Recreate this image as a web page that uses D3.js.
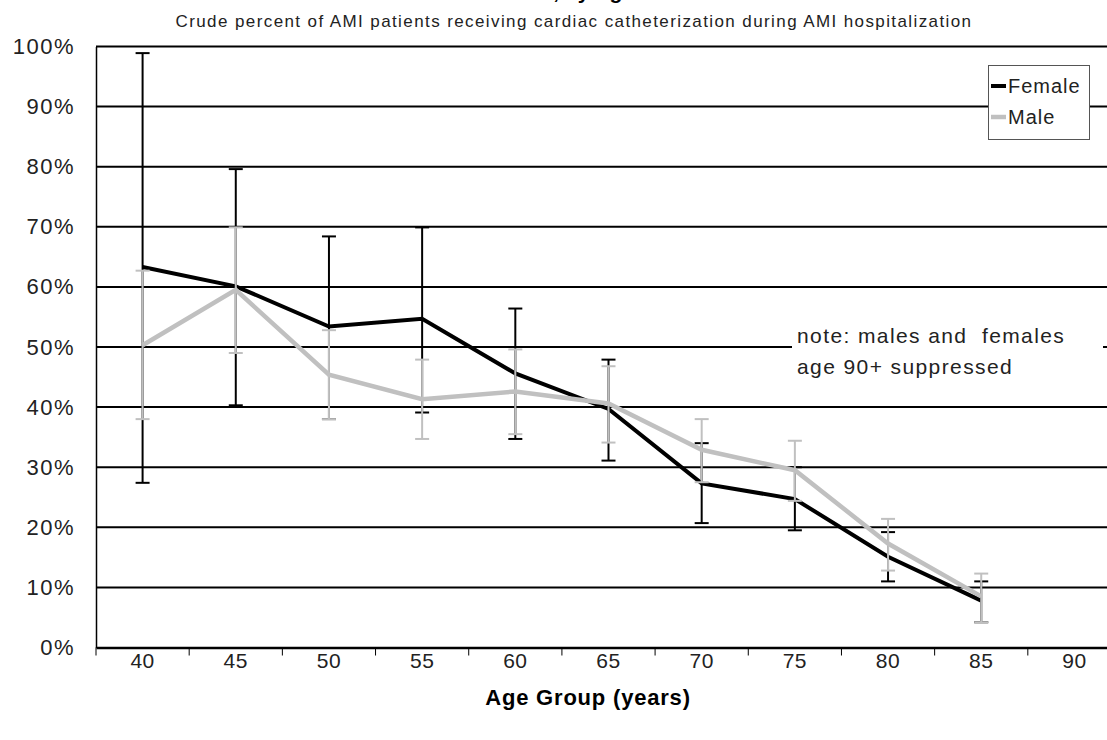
<!DOCTYPE html>
<html>
<head>
<meta charset="utf-8">
<script src="https://cdn.jsdelivr.net/npm/d3@7"></script>
<style>
  body { margin: 0; background: #fff; }
  svg { display: block; font-family: "Liberation Sans", Arial, sans-serif; }
</style>
</head>
<body>
<div id="chart"></div>
<script>
// Age groups (x categories)
const ages = [40, 45, 50, 55, 60, 65, 70, 75, 80, 85, 90];

// Female: crude percent and confidence limits
const femaleRate  = [63.3, 60.1, 53.4, 54.7, 45.6, 39.7, 27.3, 24.7, 15.1, 7.8];
const femaleLower = [27.4, 40.3, 38.0, 39.1, 34.7, 31.1, 20.7, 19.5, 11.0, 4.2];
const femaleUpper = [98.9, 79.6, 68.4, 69.9, 56.4, 47.9, 34.0, 30.0, 19.2, 11.0];

// Male: crude percent and confidence limits
const maleRate  = [50.3, 59.5, 45.4, 41.3, 42.6, 40.6, 32.9, 29.5, 17.3, 8.5];
const maleLower = [38.0, 49.0, 38.0, 34.7, 35.5, 34.1, 27.5, 24.4, 12.8, 4.2];
const maleUpper = [62.7, 69.9, 52.8, 47.9, 49.6, 46.8, 38.0, 34.4, 21.4, 12.3];

const yTicks = [0, 10, 20, 30, 40, 50, 60, 70, 80, 90, 100];

const width = 1107, height = 740;
const plot = { left: 96, right: 1121, top: 46.5, bottom: 647.5 };

const svg = d3.select("#chart").append("svg")
    .attr("width", width)
    .attr("height", height);

const x = d3.scaleBand()
    .domain(ages)
    .range([plot.left, plot.right])
    .paddingInner(0).paddingOuter(0);

const y = d3.scaleLinear()
    .domain([0, 100])
    .range([plot.bottom, plot.top]);

const cx = a => x(a) + x.bandwidth() / 2;

// Gridlines
svg.append("g")
    .selectAll("line")
    .data(yTicks.filter(d => d > 0))
    .enter().append("line")
    .attr("x1", plot.left).attr("x2", plot.right)
    .attr("y1", d => y(d)).attr("y2", d => y(d))
    .attr("stroke", "#000")
    .attr("stroke-width", 2);

// Y axis
const yAxis = svg.append("g")
    .attr("transform", `translate(${plot.left},0)`)
    .call(d3.axisLeft(y).tickValues(yTicks).tickSize(0).tickPadding(21).tickFormat(d => d + "%"));
yAxis.select(".domain").attr("stroke", "#000").attr("stroke-width", 1.5);
yAxis.selectAll("text")
    .attr("font-size", "22px")
    .attr("letter-spacing", "1.5px")
    .attr("font-family", "Liberation Sans, Arial, sans-serif")
    .attr("fill", "#222");

// X axis with ticks on category boundaries
const xAxis = svg.append("g")
    .attr("transform", `translate(0,${plot.bottom})`)
    .call(d3.axisBottom(x).tickSize(0).tickPadding(6));
xAxis.select(".domain").attr("stroke", "#000").attr("stroke-width", 2.5);
xAxis.selectAll("text")
    .attr("font-size", "21px")
    .attr("letter-spacing", "0.5px")
    .attr("font-family", "Liberation Sans, Arial, sans-serif")
    .attr("fill", "#222");
xAxis.selectAll(".bound")
    .data(ages)
    .enter().append("line")
    .attr("class", "bound")
    .attr("x1", d => x(d)).attr("x2", d => x(d))
    .attr("y1", 0).attr("y2", 8)
    .attr("stroke", "#000")
    .attr("stroke-width", 1);

// Series
const series = [
    { name: "Female", color: "#000000", rate: femaleRate, lower: femaleLower, upper: femaleUpper, width: 4 },
    { name: "Male", color: "#c0c0c0", rate: maleRate, lower: maleLower, upper: maleUpper, width: 4.5 }
];

const capW = 7;
series.forEach(s => {
    const pts = s.rate.map((v, i) => ({ age: ages[i], v: v, lo: s.lower[i], hi: s.upper[i] }));
    const eb = svg.append("g")
        .attr("stroke", s.color)
        .attr("stroke-width", 2);
    eb.selectAll(".stem").data(pts).enter().append("line")
        .attr("x1", d => cx(d.age)).attr("x2", d => cx(d.age))
        .attr("y1", d => y(d.lo)).attr("y2", d => y(d.hi));
    eb.selectAll(".capHi").data(pts).enter().append("line")
        .attr("x1", d => cx(d.age) - capW).attr("x2", d => cx(d.age) + capW)
        .attr("y1", d => y(d.hi)).attr("y2", d => y(d.hi));
    eb.selectAll(".capLo").data(pts).enter().append("line")
        .attr("x1", d => cx(d.age) - capW).attr("x2", d => cx(d.age) + capW)
        .attr("y1", d => y(d.lo)).attr("y2", d => y(d.lo));

    svg.append("path")
        .datum(pts)
        .attr("fill", "none")
        .attr("stroke", s.color)
        .attr("stroke-width", s.width)
        .attr("stroke-linejoin", "miter")
        .attr("d", d3.line().x(d => cx(d.age)).y(d => y(d.v)));
});

// Note box
svg.append("rect")
    .attr("x", 792).attr("y", 322)
    .attr("width", 311).attr("height", 62)
    .attr("fill", "#fff");
svg.append("text")
    .attr("x", 797).attr("y", 343)
    .attr("font-size", "21px")
    .attr("letter-spacing", "1.4px")
    .attr("fill", "#222")
    .attr("xml:space", "preserve")
    .text("note: males and  females");
svg.append("text")
    .attr("x", 797).attr("y", 374)
    .attr("font-size", "21px")
    .attr("letter-spacing", "1.4px")
    .attr("fill", "#222")
    .text("age 90+ suppressed");

// Legend
const legend = svg.append("g");
legend.append("rect")
    .attr("x", 988.5).attr("y", 65.5)
    .attr("width", 101).attr("height", 74)
    .attr("fill", "#fff")
    .attr("stroke", "#555")
    .attr("stroke-width", 1);
series.forEach((s, i) => {
    const ly = 86 + i * 31;
    legend.append("line")
        .attr("x1", 991).attr("x2", 1006)
        .attr("y1", ly).attr("y2", ly)
        .attr("stroke", s.color)
        .attr("stroke-width", s.width);
    legend.append("text")
        .attr("x", 1008).attr("y", ly + 7)
        .attr("font-size", "20px")
        .attr("letter-spacing", "1px")
        .attr("fill", "#222")
        .text(s.name);
});

// Titles
svg.append("text")
    .attr("x", 575).attr("y", -1)
    .attr("text-anchor", "middle")
    .attr("font-size", "21px")
    .attr("font-weight", "bold")
    .text("Sex, by Age");

svg.append("text")
    .attr("x", 574).attr("y", 27)
    .attr("text-anchor", "middle")
    .attr("font-size", "17px")
    .attr("letter-spacing", "1.4px")
    .attr("fill", "#222")
    .text("Crude percent of AMI patients receiving cardiac catheterization during AMI hospitalization");

svg.append("text")
    .attr("x", 588).attr("y", 705)
    .attr("text-anchor", "middle")
    .attr("font-size", "22px")
    .attr("font-weight", "bold")
    .attr("letter-spacing", "0.8px")
    .text("Age Group (years)");
</script>
</body>
</html>
